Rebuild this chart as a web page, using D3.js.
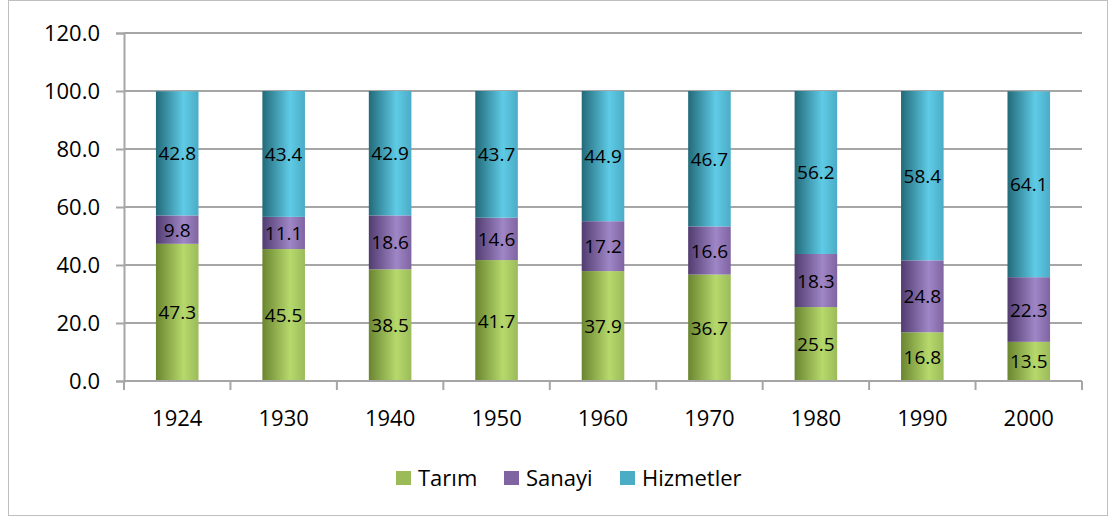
<!DOCTYPE html>
<html>
<head>
<meta charset="utf-8">
<script src="https://cdn.jsdelivr.net/npm/d3@7"></script>
<style>
  body { margin: 0; background: #fff; }
  text { font-family: "Open Sans", "Noto Sans", sans-serif; fill: #000; }
</style>
</head>
<body>
<div id="chart"></div>
<script>
// Data
const years = ["1924", "1930", "1940", "1950", "1960", "1970", "1980", "1990", "2000"];
const tarim = [47.3, 45.5, 38.5, 41.7, 37.9, 36.7, 25.5, 16.8, 13.5];
const sanayi = [9.8, 11.1, 18.6, 14.6, 17.2, 16.6, 18.3, 24.8, 22.3];
const hizmetler = [42.8, 43.4, 42.9, 43.7, 44.9, 46.7, 56.2, 58.4, 64.1];
const seriesNames = ["Tarım", "Sanayi", "Hizmetler"];
const yTicks = [0, 20, 40, 60, 80, 100, 120];

const width = 1114;
const height = 517;
const margin = { top: 33, right: 32, bottom: 136, left: 124 };

const svg = d3.select("#chart")
  .append("svg")
  .attr("width", width)
  .attr("height", height);

// Outer border
svg.append("rect")
  .attr("x", 8.5).attr("y", 0.5)
  .attr("width", 1099).attr("height", 515)
  .attr("fill", "#fff")
  .attr("stroke", "#bfbfbf");

// Gradients (cylinder look)
const colors = [
  { dark: "#6a8530", light: "#b6d96c", base: "#9bbb59" },
  { dark: "#513c70", light: "#9f86c6", base: "#8064a2" },
  { dark: "#226a79", light: "#5fcbe6", base: "#4bacc6" }
];
const defs = svg.append("defs");
colors.forEach((c, i) => {
  const g = defs.append("linearGradient")
    .attr("id", "grad" + i)
    .attr("x1", "0").attr("x2", "1").attr("y1", "0").attr("y2", "0");
  g.append("stop").attr("offset", "0%").attr("stop-color", c.dark);
  g.append("stop").attr("offset", "65%").attr("stop-color", c.light);
  g.append("stop").attr("offset", "100%").attr("stop-color", c.base);
});

// Scales
const x = d3.scaleBand()
  .domain(years)
  .range([margin.left, width - margin.right])
  .paddingInner(0.6)
  .paddingOuter(0.3);

const y = d3.scaleLinear()
  .domain([0, 120])
  .range([height - margin.bottom, margin.top]);

const plotBottom = y(0);

// Gridlines
svg.append("g")
  .selectAll("line")
  .data(yTicks.filter(d => d > 0))
  .join("line")
  .attr("x1", margin.left)
  .attr("x2", width - margin.right)
  .attr("y1", d => y(d))
  .attr("y2", d => y(d))
  .attr("stroke", "#a6a6a6")
  .attr("stroke-width", 2);

// Y axis
const yAxis = svg.append("g")
  .attr("transform", `translate(${margin.left},0)`)
  .call(d3.axisLeft(y).tickValues(yTicks).tickFormat(d3.format(".1f")).tickSize(8).tickPadding(16));
yAxis.select(".domain").attr("stroke", "#a6a6a6").attr("stroke-width", 2);
yAxis.selectAll(".tick line").attr("stroke", "#a6a6a6").attr("stroke-width", 2);
yAxis.selectAll(".tick text").style("font-size", "22px").attr("fill", "#000");

// Stack
const table = years.map((yr, i) => ({ year: yr, 0: tarim[i], 1: sanayi[i], 2: hizmetler[i] }));
const stack = d3.stack().keys([0, 1, 2])(table);

// Bars
stack.forEach((layer, li) => {
  svg.append("g")
    .selectAll("rect")
    .data(layer)
    .join("rect")
    .attr("x", d => x(d.data.year))
    .attr("y", d => y(d[1]))
    .attr("width", x.bandwidth())
    .attr("height", d => y(d[0]) - y(d[1]))
    .attr("fill", `url(#grad${li})`);
});

// X axis
const xAxisScale = d3.scaleLinear().domain([0, years.length]).range([margin.left, width - margin.right]);
svg.append("line")
  .attr("x1", margin.left).attr("x2", width - margin.right)
  .attr("y1", plotBottom).attr("y2", plotBottom)
  .attr("stroke", "#a6a6a6").attr("stroke-width", 2);
svg.append("g")
  .selectAll("line")
  .data(d3.range(years.length + 1))
  .join("line")
  .attr("x1", d => xAxisScale(d))
  .attr("x2", d => xAxisScale(d))
  .attr("y1", plotBottom)
  .attr("y2", plotBottom + 9)
  .attr("stroke", "#a6a6a6")
  .attr("stroke-width", 2);
svg.append("g")
  .selectAll("text")
  .data(years)
  .join("text")
  .attr("x", d => x(d) + x.bandwidth() / 2)
  .attr("y", plotBottom + 45)
  .attr("text-anchor", "middle")
  .style("font-size", "22px")
  .text(d => d);

// Value labels
stack.forEach(layer => {
  svg.append("g")
    .selectAll("text")
    .data(layer)
    .join("text")
    .attr("x", d => x(d.data.year) + x.bandwidth() / 2)
    .attr("y", d => (y(d[0]) + y(d[1])) / 2 + 7)
    .attr("text-anchor", "middle")
    .style("font-size", "19px")
    .text(d => (d[1] - d[0]).toFixed(1));
});

// Legend
const legendX = [396, 504, 620];
const legend = svg.append("g");
seriesNames.forEach((name, i) => {
  legend.append("rect")
    .attr("x", legendX[i]).attr("y", 471)
    .attr("width", 15).attr("height", 14)
    .attr("fill", colors[i].base);
  legend.append("text")
    .attr("x", legendX[i] + 22).attr("y", 486)
    .style("font-size", "22px")
    .text(name);
});
</script>
</body>
</html>
